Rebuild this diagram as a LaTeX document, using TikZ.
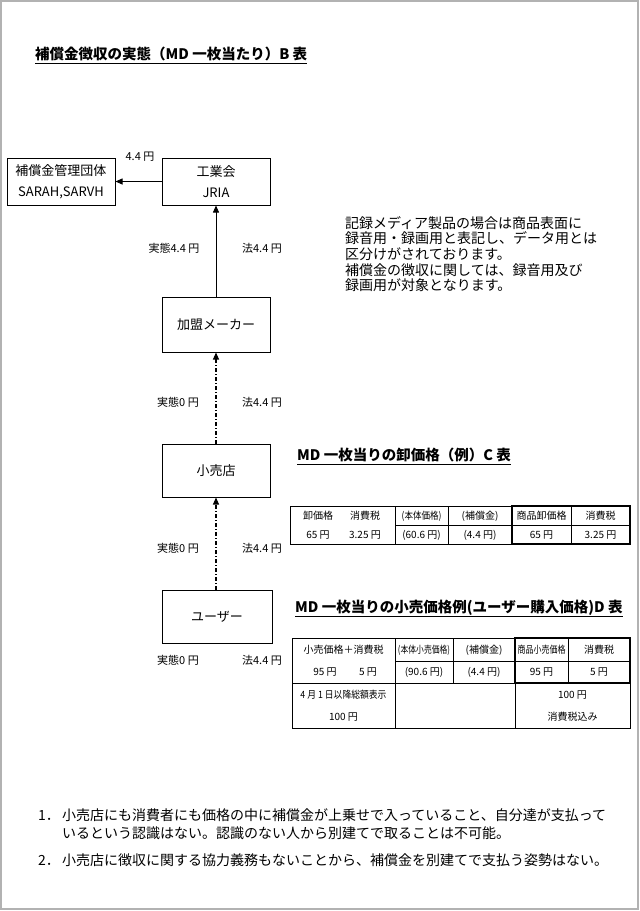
\documentclass[tikz,border=0pt]{standalone}
\usepackage{fontspec}
\setmainfont{Noto Sans CJK JP}
\usepackage{graphicx}
\usetikzlibrary{arrows.meta}

\begin{document}
\begin{tikzpicture}[x=1pt,y=-1pt,font=\fontsize{13}{21}\selectfont,
  ar/.style={-{Triangle[length=7pt,width=6pt]},line width=.8pt},
  dd/.style={dash pattern=on 4pt off 2pt on 1pt off 2pt,line width=1.1pt}]
  \tikzset{bx/.style={draw,line width=1pt,minimum width=108pt,minimum height=47pt,align=center,inner sep=2pt},
    lb/.style={inner sep=0pt,font=\fontsize{11}{13}\selectfont,text height=9.7pt,text depth=1.3pt},
    cl/.style={inner sep=0pt,font=\fontsize{10}{12}\selectfont,text height=8.8pt,text depth=1.2pt},
    hd/.style={inner sep=0pt,anchor=west,font=\fontsize{14.5}{16}\selectfont\bfseries,text height=12.8pt,text depth=1.8pt},
    tx/.style={inner sep=0pt,anchor=west,font=\fontsize{14}{16}\selectfont,text height=12.3pt,text depth=1.7pt}}
  \useasboundingbox (0,0) rectangle (640,911);
  \draw[gray!60,line width=1.5pt] (1,1) rectangle (638,909);
  % title
  \node[hd] (ttlb) at (35,54) {補償金徴収の実態（MD 一枚当たり）B 表};
  \draw[line width=.8pt] ([yshift=-2pt]ttlb.south west) -- ([yshift=-2pt]ttlb.south east);
  % flow
  \node[bx] (kanri) at (61,181.5) {補償金管理団体\\SARAH,SARVH};
  \node[bx] (jria) at (216,181.5) {工業会\\JRIA};
  \node[bx,minimum height=55pt] (maker) at (216,324.5) {加盟メーカー};
  \node[bx,minimum height=53pt] (shop) at (216,470.5) {小売店};
  \node[bx,minimum height=53pt,minimum width=110pt] (user) at (217,616.5) {ユーザー};
  \draw[ar] (jria.west) -- (kanri.east);
  \draw[ar] (maker.north) -- (jria.south);
  \draw[ar,dd] (shop.north) -- (maker.south);
  \draw[ar,dd] (user.north-|shop.south) -- (shop.south);
  \node[lb] (lbk) at (140,156) {4.4 円};
  \node[lb] (lbm1) at (174,248) {実態4.4 円};
  \node[lb] (lbm2) at (262,248) {法4.4 円};
  \node[lb] (lbs1) at (178,402) {実態0 円};
  \node[lb] (lbs2) at (262,402) {法4.4 円};
  \node[lb] (lbu1) at (178,548) {実態0 円};
  \node[lb] (lbu2) at (262,548) {法4.4 円};
  \node[lb] (lbe1) at (178,660) {実態0 円};
  \node[lb] (lbe2) at (262,660) {法4.4 円};
  % note
  \node[inner sep=0pt,anchor=north west,align=left,font=\fontsize{14}{15.7}\selectfont] (memo) at (345,216)
    {記録メディア製品の場合は商品表面に\\録音用・録画用と表記し、データ用とは\\区分けがされております。\\補償金の徴収に関しては、録音用及び\\録画用が対象となります。};
  % table C
  \node[hd] (ttlc) at (297,455) {MD 一枚当りの卸価格（例）C 表};
  \draw[line width=.8pt] ([yshift=-2pt]ttlc.south west) -- ([yshift=-2pt]ttlc.south east);
  \draw[line width=1pt] (290,506) rectangle (630,544);
  \draw[line width=.6pt] (395,506) -- (395,544) (448,506) -- (448,544) (571,506) -- (571,544)
    (395,525) -- (630,525);
  \draw[line width=1.6pt] (512,506) rectangle (630,544);
  \node[cl] (ca1) at (318,515.5) {卸価格};
  \node[cl] (ca2) at (365,515.5) {消費税};
  \node[cl] (ca3) at (318,534.5) {65 円};
  \node[cl] (ca4) at (365,534.5) {3.25 円};
  \node[cl] (cb1) at (421.5,515.5) {\scalebox{.85}[1]{(本体価格)}};
  \node[cl] (cb2) at (421.5,534.5) {(60.6 円)};
  \node[cl] (cc1) at (480,515.5) {(補償金)};
  \node[cl] (cc2) at (480,534.5) {(4.4 円)};
  \node[cl] (cd1) at (541.5,515.5) {商品卸価格};
  \node[cl] (cd2) at (541.5,534.5) {65 円};
  \node[cl] (ce1) at (600.5,515.5) {消費税};
  \node[cl] (ce2) at (600.5,534.5) {3.25 円};
  % table D
  \node[hd] (ttld) at (295,607) {MD 一枚当りの小売価格例(ユーザー購入価格)D 表};
  \draw[line width=.8pt] ([yshift=-2pt]ttld.south west) -- ([yshift=-2pt]ttld.south east);
  \draw[line width=1pt] (292,638) rectangle (630,728);
  \draw[line width=.6pt] (395,638) -- (395,728) (453,638) -- (453,683) (515,683) -- (515,728)
    (568,638) -- (568,683) (395,661) -- (630,661) (292,683) -- (630,683);
  \draw[line width=1.6pt] (515,638) rectangle (630,683);
  \node[cl] (da1) at (343.5,649.5) {小売価格＋消費税};
  \node[cl] (da2) at (325,672) {95 円};
  \node[cl] (da3) at (368,672) {5 円};
  \node[cl] (db1) at (424,649.5) {\scalebox{.78}[1]{(本体小売価格)}};
  \node[cl] (db2) at (424,672) {(90.6 円)};
  \node[cl] (dc1) at (484,649.5) {(補償金)};
  \node[cl] (dc2) at (484,672) {(4.4 円)};
  \node[cl] (dd1) at (541.5,649.5) {\scalebox{.8}[1]{商品小売価格}};
  \node[cl] (dd2) at (541.5,672) {95 円};
  \node[cl] (de1) at (599,649.5) {消費税};
  \node[cl] (de2) at (599,672) {5 円};
  \node[cl] (df1) at (343.5,695) {\scalebox{.88}[1]{4 月 1 日以降総額表示}};
  \node[cl] (df2) at (343.5,717) {100 円};
  \node[cl] (dg1) at (572.5,695) {100 円};
  \node[cl] (dg2) at (572.5,717) {消費税込み};
  % remarks
  \node[tx] (no1) at (38,815) {1．};
  \node[tx] (re1) at (62,815) {小売店にも消費者にも価格の中に補償金が上乗せで入っていること、自分達が支払って};
  \node[tx] (re2) at (62,833) {いるという認識はない。認識のない人から別建てで取ることは不可能。};
  \node[tx] (no2) at (38,860) {2．};
  \node[tx] (re3) at (62,860) {小売店に徴収に関する協力義務もないことから、補償金を別建てで支払う姿勢はない。};
\end{tikzpicture}
\end{document}
